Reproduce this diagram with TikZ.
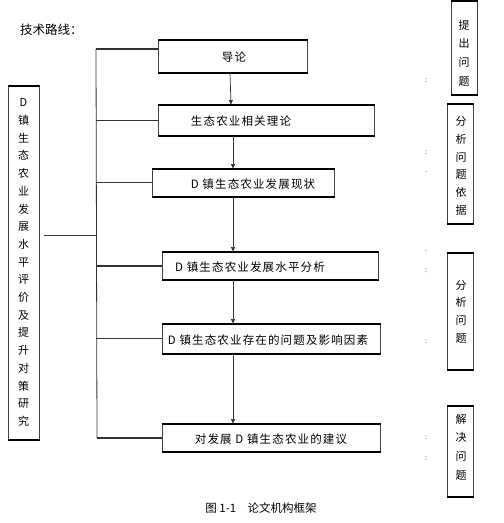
\documentclass[tikz,border=0pt]{standalone}
\usepackage{fontspec}
\setmainfont{Noto Sans CJK SC}
\newfontfamily\spacedcjk[LetterSpace=10]{Noto Sans CJK SC}
\usetikzlibrary{arrows.meta}
\begin{document}
\begin{tikzpicture}[x=1pt,y=-1pt,
  box/.style={draw=black!75, line width=0.7pt, inner sep=0pt, anchor=north west},
  txt/.style={font=\spacedcjk\fontsize{11.5}{13}\selectfont, inner sep=0pt},
  vtxt/.style={font=\fontsize{11}{17.7}\selectfont, align=center, inner sep=0pt},
  link/.style={line width=0.8pt, draw=black!80},
  arr/.style={line width=0.7pt, draw=black!80, -{Latex[length=5pt,width=4.5pt]}},
  colon/.style={font=\fontsize{7}{8}\selectfont, inner sep=0pt}]
\useasboundingbox (0,0) rectangle (504,523);

% title
\node[font=\fontsize{12.5}{14}\selectfont, inner sep=0pt, anchor=west] (title) at (20,30) {技术路线：};

% main boxes
\node[box, minimum width=149pt, minimum height=32pt] (b1) at (158,40) {};
\node[box, minimum width=216pt, minimum height=30pt] (b2) at (158,105) {};
\node[box, minimum width=182pt, minimum height=27pt] (b3) at (152,169) {};
\node[box, minimum width=216pt, minimum height=27pt] (b4) at (162,252) {};
\node[box, minimum width=218pt, minimum height=29pt] (b5) at (162,324) {};
\node[box, minimum width=218pt, minimum height=27pt] (b6) at (162,424) {};

\node[txt] (t1) at (234,57) {导论};
\node[txt] (t2) at (241,121) {生态农业相关理论};
\node[txt] (t3) at (253,184) {D 镇生态农业发展现状};
\node[txt] (t4) at (250,267) {D 镇生态农业发展水平分析};
\node[txt] (t5) at (268,340) {D 镇生态农业存在的问题及影响因素};
\node[txt] (t6) at (271,439) {对发展 D 镇生态农业的建议};

% left box
\node[box, minimum width=31pt, minimum height=353pt] (L) at (8,86) {};
\node[vtxt] (Lt) at (23.5,262.5) {D\\镇\\生\\态\\农\\业\\发\\展\\水\\平\\评\\价\\及\\提\\升\\对\\策\\研\\究};

% right boxes
\node[box, minimum width=26pt, minimum height=93pt] (R1) at (451,1) {};
\node[vtxt, font=\fontsize{11}{18.7}\selectfont] (R1t) at (464,53) {提\\出\\问\\题};
\node[box, minimum width=26pt, minimum height=119pt] (R2) at (447,104) {};
\node[vtxt] (R2t) at (461,166) {分\\析\\问\\题\\依\\据};
\node[box, minimum width=26pt, minimum height=116pt] (R3) at (447,253) {};
\node[vtxt] (R3t) at (461,311.5) {分\\析\\问\\题};
\node[box, minimum width=26pt, minimum height=90pt] (R4) at (447,406) {};
\node[vtxt, font=\fontsize{11}{18.7}\selectfont] (R4t) at (461,447) {解\\决\\问\\题};

% thick top and bottom edges
\foreach \b in {b1,b2,b3,b4,b5,b6,L,R1,R2,R3,R4}{
  \draw[line width=1.6pt] (\b.north west) -- (\b.north east);
  \draw[line width=1.6pt] (\b.south west) -- (\b.south east);
}

% trunk and branches
\coordinate (trunkTop) at (96,49);
\coordinate (trunkBot) at (97,438);
\coordinate (lstart) at (44,235);
\draw[link] (trunkTop) -- (trunkBot);
\draw[link, line width=1.2pt] (trunkTop) -- (trunkTop -| b1.west);
\draw[link] (b2.west) -- (b2.west -| trunkTop);
\draw[link] (b3.west) -- (b3.west -| trunkTop);
\draw[link, line width=1.6pt] (b4.west) -- (b4.west -| trunkTop);
\draw[link] (b5.west) -- (b5.west -| trunkTop);
\draw[link, line width=1.4pt] (trunkBot) -- (trunkBot -| b6.west);
\draw[link] (lstart) -- (lstart -| trunkTop);

% arrows
\coordinate (ax) at (233,0);
\draw[arr] (b1.south -| 230,0) -- (b2.north -| 231,0);
\draw[arr] (b2.south -| ax) -- (b3.north -| ax);
\draw[arr] (b3.south -| ax) -- (b4.north -| ax);
\draw[arr] (b4.south -| ax) -- (b5.north -| ax);
\draw[arr] (b5.south -| ax) -- (b6.north -| ax);

% stray colons
\node[colon] (c1) at (426,81) {:};
\node[colon] (c2) at (426,153) {:};
\node[colon] (c3) at (426,172) {.};
\node[colon] (c4) at (426,251) {.};
\node[colon] (c5) at (426,271) {:};
\node[colon] (c6) at (426,342) {:};
\node[colon] (c7) at (426,438) {:};
\node[colon] (c8) at (426,459) {:};

% caption
\node[font=\fontsize{11.5}{13}\selectfont, inner sep=0pt] (cap) at (261,508) {图 1-1\quad 论文机构框架};
\end{tikzpicture}
\end{document}
